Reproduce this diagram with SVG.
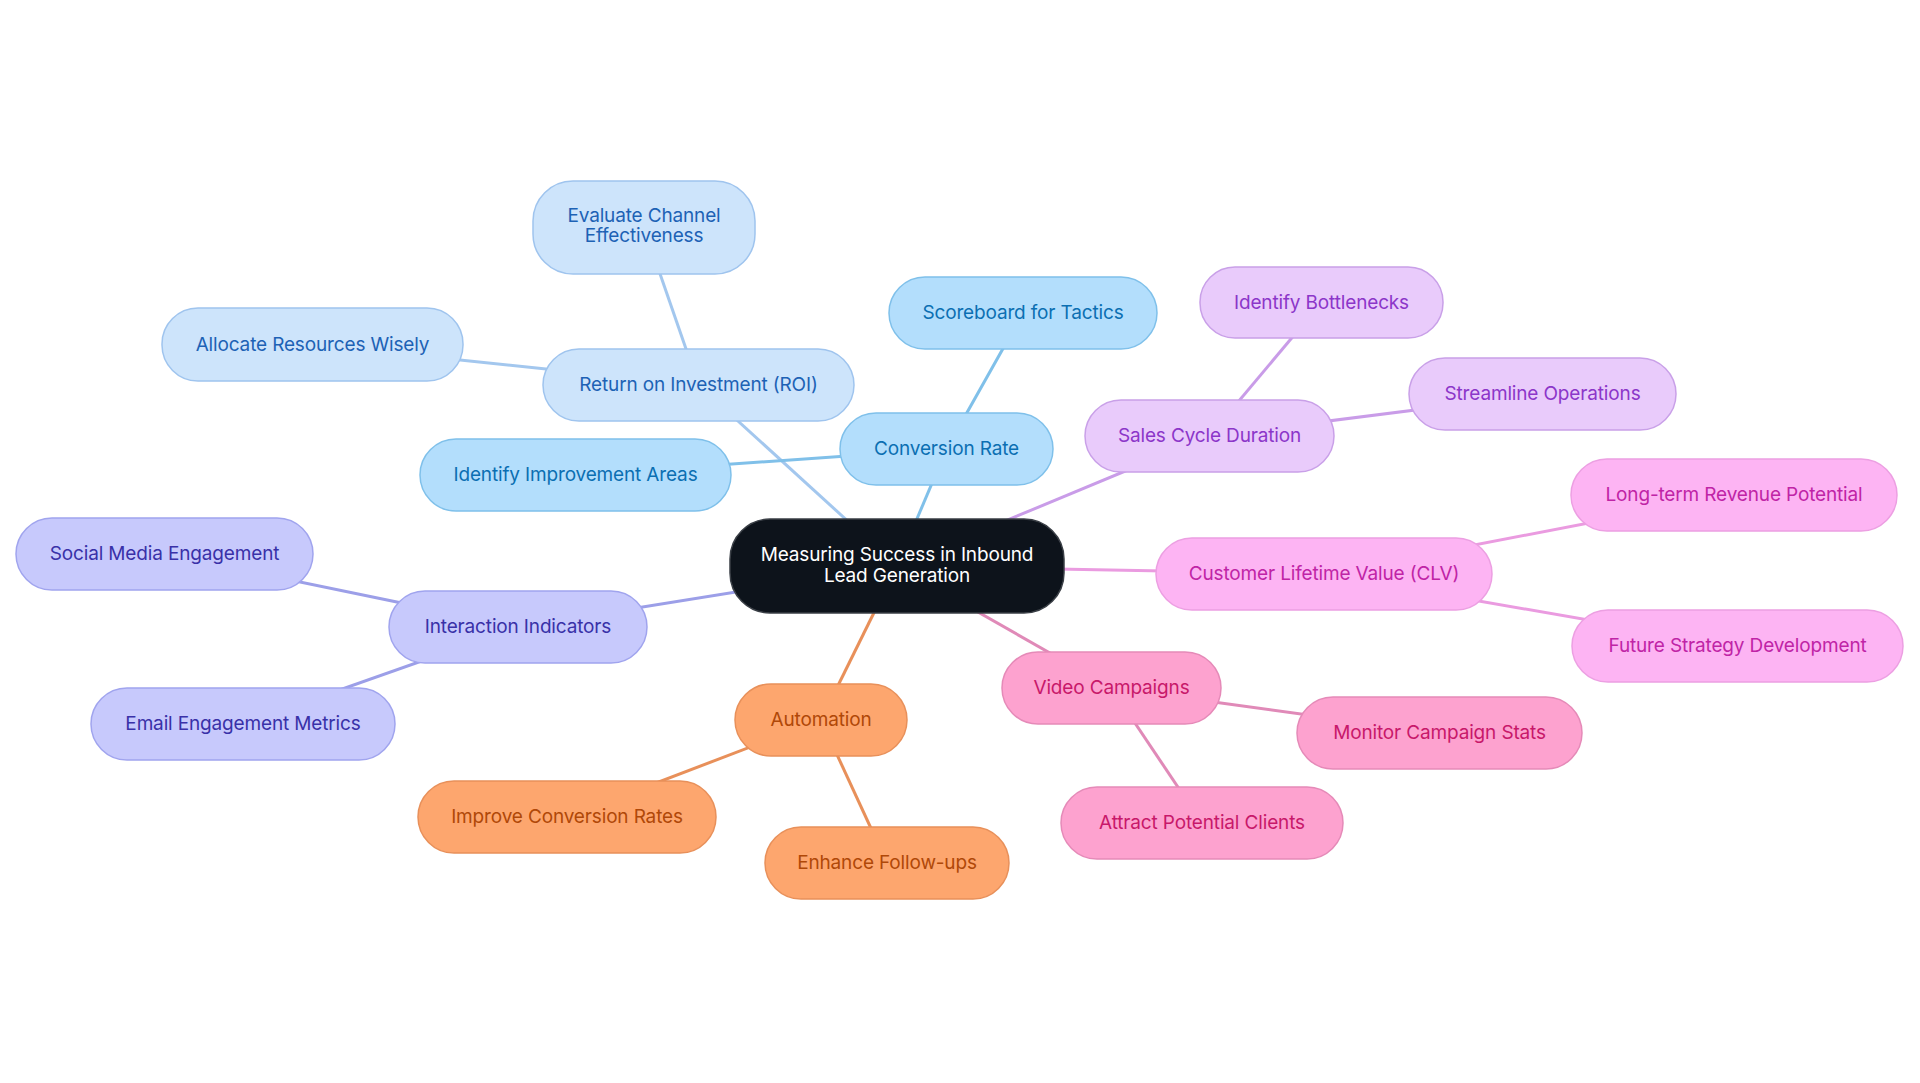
<svg xmlns="http://www.w3.org/2000/svg" width="1920" height="1083" viewBox="0 0 1920 1083">
<style>
text{font-family:Inter,"Noto Sans","Liberation Sans",sans-serif;font-size:19px;text-anchor:middle;letter-spacing:-0.15px}
.e{stroke-width:3;fill:none}
.n rect{stroke-width:1.5}
.c0 rect{fill:#0d131b;stroke:#3a3f46}.c0 text{fill:#ffffff}
.c1 rect{fill:#cde4fb;stroke:#9fc4ee}.c1 text{fill:#1d62b5}
.c2 rect{fill:#b3defc;stroke:#7fc0ea}.c2 text{fill:#0b6fb2}
.c3 rect{fill:#e9cbfb;stroke:#c9a0e8}.c3 text{fill:#8c36c9}
.c4 rect{fill:#fdb4f3;stroke:#ec9fe2}.c4 text{fill:#c024a6}
.c5 rect{fill:#fda2cf;stroke:#e58ab8}.c5 text{fill:#c8186a}
.c6 rect{fill:#fda66e;stroke:#e8905a}.c6 text{fill:#b04808}
.c7 rect{fill:#c7c9fc;stroke:#a0a4ee}.c7 text{fill:#3931a8}
</style>
<rect width="1920" height="1083" fill="#ffffff"/>
<g id="connectors">
<line class="e" stroke="#a3c7ee" x1="897" y1="566" x2="698.5" y2="385"/>
<line class="e" stroke="#a3c7ee" x1="698.5" y1="385" x2="644" y2="227.5"/>
<line class="e" stroke="#a3c7ee" x1="698.5" y1="385" x2="312.5" y2="344.5"/>
<line class="e" stroke="#80c0e9" x1="897" y1="566" x2="946.5" y2="449"/>
<line class="e" stroke="#80c0e9" x1="946.5" y1="449" x2="1023" y2="313"/>
<line class="e" stroke="#80c0e9" x1="946.5" y1="449" x2="575.5" y2="475"/>
<line class="e" stroke="#c99ce8" x1="897" y1="566" x2="1209.5" y2="436"/>
<line class="e" stroke="#c99ce8" x1="1209.5" y1="436" x2="1321.5" y2="302.5"/>
<line class="e" stroke="#c99ce8" x1="1209.5" y1="436" x2="1542.5" y2="394"/>
<line class="e" stroke="#ea9be0" x1="897" y1="566" x2="1324" y2="574"/>
<line class="e" stroke="#ea9be0" x1="1324" y1="574" x2="1734" y2="495"/>
<line class="e" stroke="#ea9be0" x1="1324" y1="574" x2="1737.5" y2="646"/>
<line class="e" stroke="#e08ab8" x1="897" y1="566" x2="1111.5" y2="688"/>
<line class="e" stroke="#e08ab8" x1="1111.5" y1="688" x2="1439.5" y2="733"/>
<line class="e" stroke="#e08ab8" x1="1111.5" y1="688" x2="1202" y2="823"/>
<line class="e" stroke="#e8905a" x1="897" y1="566" x2="821" y2="720"/>
<line class="e" stroke="#e8905a" x1="821" y1="720" x2="567" y2="817"/>
<line class="e" stroke="#e8905a" x1="821" y1="720" x2="887" y2="863"/>
<line class="e" stroke="#9c9fe8" x1="897" y1="566" x2="518" y2="627"/>
<line class="e" stroke="#9c9fe8" x1="518" y1="627" x2="164.5" y2="554"/>
<line class="e" stroke="#9c9fe8" x1="518" y1="627" x2="243" y2="724"/>
</g>
<g id="central" class="n c0"><rect x="730" y="519" width="334" height="94" rx="40"/><text x="897" y="561">Measuring Success in Inbound</text><text x="897" y="582">Lead Generation</text></g>
<g id="roi" class="n c1"><rect x="543" y="349" width="311" height="72" rx="36"/><text x="698.5" y="391">Return on Investment (ROI)</text></g>
<g id="evaluate" class="n c1"><rect x="533" y="181" width="222" height="93" rx="40"/><text x="644" y="222">Evaluate Channel</text><text x="644" y="242">Effectiveness</text></g>
<g id="allocate" class="n c1"><rect x="162" y="308" width="301" height="73" rx="36"/><text x="312.5" y="351">Allocate Resources Wisely</text></g>
<g id="conversion" class="n c2"><rect x="840" y="413" width="213" height="72" rx="36"/><text x="946.5" y="455">Conversion Rate</text></g>
<g id="scoreboard" class="n c2"><rect x="889" y="277" width="268" height="72" rx="36"/><text x="1023" y="319">Scoreboard for Tactics</text></g>
<g id="improve-areas" class="n c2"><rect x="420" y="439" width="311" height="72" rx="36"/><text x="575.5" y="481">Identify Improvement Areas</text></g>
<g id="sales" class="n c3"><rect x="1085" y="400" width="249" height="72" rx="36"/><text x="1209.5" y="442">Sales Cycle Duration</text></g>
<g id="bottlenecks" class="n c3"><rect x="1200" y="267" width="243" height="71" rx="35"/><text x="1321.5" y="308.5">Identify Bottlenecks</text></g>
<g id="streamline" class="n c3"><rect x="1409" y="358" width="267" height="72" rx="36"/><text x="1542.5" y="400">Streamline Operations</text></g>
<g id="clv" class="n c4"><rect x="1156" y="538" width="336" height="72" rx="36"/><text x="1324" y="580">Customer Lifetime Value (CLV)</text></g>
<g id="longterm" class="n c4"><rect x="1571" y="459" width="326" height="72" rx="36"/><text x="1734" y="501">Long-term Revenue Potential</text></g>
<g id="future" class="n c4"><rect x="1572" y="610" width="331" height="72" rx="36"/><text x="1737.5" y="652">Future Strategy Development</text></g>
<g id="video" class="n c5"><rect x="1002" y="652" width="219" height="72" rx="36"/><text x="1111.5" y="694">Video Campaigns</text></g>
<g id="monitor" class="n c5"><rect x="1297" y="697" width="285" height="72" rx="36"/><text x="1439.5" y="739">Monitor Campaign Stats</text></g>
<g id="attract" class="n c5"><rect x="1061" y="787" width="282" height="72" rx="36"/><text x="1202" y="829">Attract Potential Clients</text></g>
<g id="automation" class="n c6"><rect x="735" y="684" width="172" height="72" rx="36"/><text x="821" y="726">Automation</text></g>
<g id="improve-conv" class="n c6"><rect x="418" y="781" width="298" height="72" rx="36"/><text x="567" y="823">Improve Conversion Rates</text></g>
<g id="enhance" class="n c6"><rect x="765" y="827" width="244" height="72" rx="36"/><text x="887" y="869">Enhance Follow-ups</text></g>
<g id="interaction" class="n c7"><rect x="389" y="591" width="258" height="72" rx="36"/><text x="518" y="633">Interaction Indicators</text></g>
<g id="social" class="n c7"><rect x="16" y="518" width="297" height="72" rx="36"/><text x="164.5" y="560">Social Media Engagement</text></g>
<g id="email" class="n c7"><rect x="91" y="688" width="304" height="72" rx="36"/><text x="243" y="730">Email Engagement Metrics</text></g>
</svg>
